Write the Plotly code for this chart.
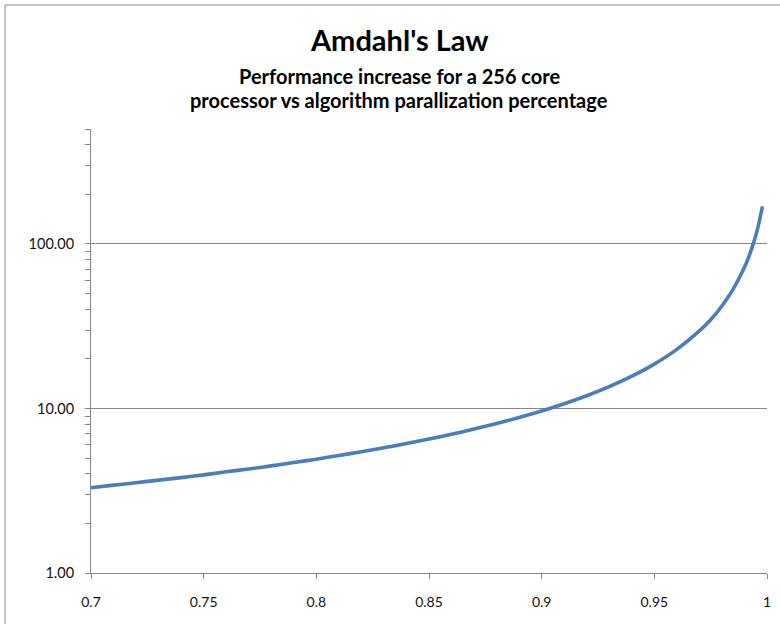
import plotly.graph_objects as go

# Parallel fraction (x) and speedup (y)
parallel_fraction = [0.70, 0.71, 0.72, 0.73, 0.74, 0.75, 0.76, 0.77, 0.78, 0.79,
                     0.80, 0.81, 0.82, 0.83, 0.84, 0.85, 0.86, 0.87, 0.88, 0.89,
                     0.90, 0.91, 0.92, 0.93, 0.94, 0.95, 0.96, 0.97, 0.975, 0.98,
                     0.985, 0.99, 0.992, 0.994, 0.996, 0.998]
speedup = [3.30, 3.42, 3.54, 3.67, 3.80, 3.95, 4.12, 4.29, 4.48, 4.69,
           4.92, 5.18, 5.46, 5.77, 6.12, 6.52, 6.98, 7.50, 8.10, 8.81,
           9.66, 10.69, 11.96, 13.58, 15.71, 18.62, 22.86, 29.60, 34.6, 41.97,
           53.1, 72.1, 84.2, 101.2, 126.7, 169.5]

x_tick_vals = [0.7, 0.75, 0.8, 0.85, 0.9, 0.95, 1.0]
x_tick_text = ["0.7", "0.75", "0.8", "0.85", "0.9", "0.95", "1"]
y_tick_vals = [1, 10, 100]
y_tick_text = ["1.00", "10.00", "100.00"]
y_minor_vals = [2, 3, 4, 5, 6, 7, 8, 9, 20, 30, 40, 50, 60, 70, 80, 90, 200, 300, 400, 500]

title_text = "Amdahl's Law"
subtitle_lines = ["Performance increase for a 256 core",
                  "processor vs algorithm parallization percentage"]

FONT = "Lato, 'Open Sans', sans-serif"
GRAY = "#878787"
TXT = "#111111"

fig = go.Figure()
fig.add_trace(go.Scatter(
    x=parallel_fraction, y=speedup, mode="lines",
    line=dict(color="#4A7EBB", width=3.6, shape="spline", smoothing=0.6),
    hoverinfo="x+y", showlegend=False, cliponaxis=False,
))

L, R, T, B = 91, 13, 129, 51
W, H = 780, 624
pw, ph = W - L - R, H - T - B

fig.update_layout(
    width=W, height=H,
    margin=dict(l=L, r=R, t=T, b=B, autoexpand=False),
    paper_bgcolor="white", plot_bgcolor="white",
    font=dict(family=FONT, size=14, color=TXT),
    xaxis=dict(
        range=[0.7, 1.0], tickvals=x_tick_vals, ticktext=x_tick_text,
        showgrid=False, zeroline=False, automargin=False,
        showline=True, linecolor=GRAY, linewidth=1,
        ticks="outside", ticklen=5, tickcolor=GRAY, tickwidth=1,
        ticklabelstandoff=11,
        tickfont=dict(family=FONT, size=14, color=TXT),
    ),
    yaxis=dict(
        type="log", range=[0, 2.69897],
        tickvals=y_tick_vals, ticktext=y_tick_text,
        showgrid=True, gridcolor=GRAY, gridwidth=1, zeroline=False, automargin=False,
        showline=True, linecolor=GRAY, linewidth=1,
        ticks="outside", ticklen=5, tickcolor=GRAY, tickwidth=1,
        ticklabelstandoff=8,
        tickfont=dict(family=FONT, size=14.5, color=TXT),
        minor=dict(tickvals=y_minor_vals, ticks="outside", ticklen=5,
                   tickcolor=GRAY, tickwidth=1, showgrid=False),
    ),
    annotations=[
        dict(text="<b>" + title_text + "</b>", xref="paper", yref="paper",
             x=(399 - L) / pw, y=(H - B - 40) / ph, xanchor="center", yanchor="middle",
             showarrow=False, font=dict(family=FONT, size=29, color="black")),
        dict(text="<b>" + subtitle_lines[0] + "</b>", xref="paper", yref="paper",
             x=(399 - L) / pw, y=(H - B - 76) / ph, xanchor="center", yanchor="middle",
             showarrow=False, font=dict(family=FONT, size=20, color="black")),
        dict(text="<b>" + subtitle_lines[1] + "</b>", xref="paper", yref="paper",
             x=(399 - L) / pw, y=(H - B - 100) / ph, xanchor="center", yanchor="middle",
             showarrow=False, font=dict(family=FONT, size=20, color="black")),
    ],
    shapes=[
        dict(type="rect", xref="paper", yref="paper",
             x0=(5 - L) / pw, x1=(W + 20 - L) / pw,
             y0=-(B + 20) / ph, y1=(H - B - 5) / ph,
             line=dict(color=GRAY, width=1), fillcolor="rgba(0,0,0,0)", layer="below"),
    ],
)

fig.write_html("out.html",
               config={"displayModeBar": False},
               post_script="document.body.style.margin='0';document.body.style.overflow='hidden';")
